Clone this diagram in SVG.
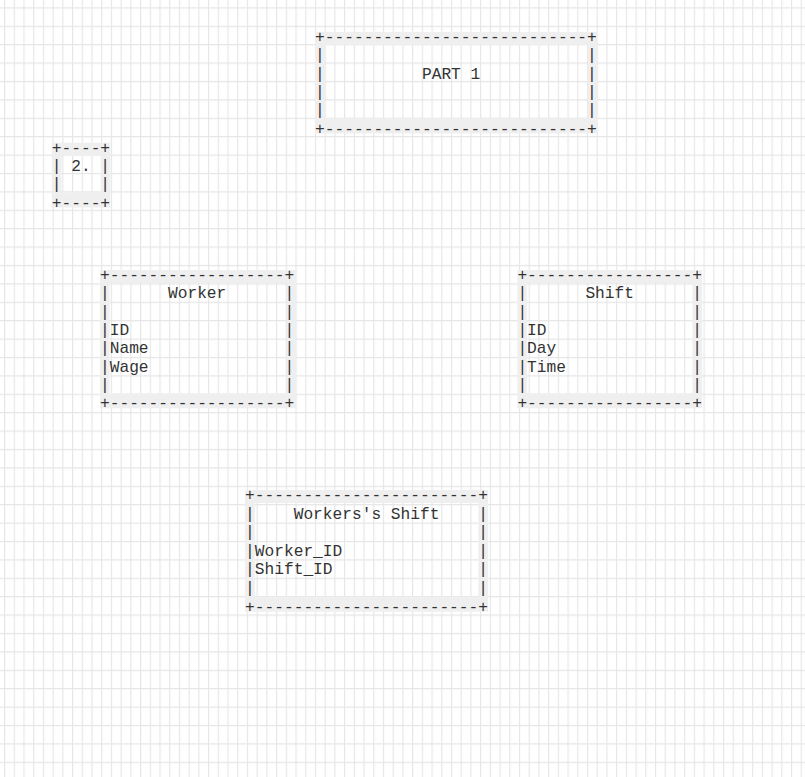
<svg xmlns="http://www.w3.org/2000/svg" width="805" height="777" viewBox="0 0 805 777" xml:space="preserve">
<defs>
<pattern id="grid" patternUnits="userSpaceOnUse" x="4" y="7.3" width="9.716" height="18.4">
<rect width="9.716" height="18.4" fill="#ffffff"/>
<path d="M0.5 0V18.4M0 0.5H9.716" stroke="#e6e6e6" stroke-width="1.2" fill="none"/>
</pattern>
<style>
.t{font-family:"Liberation Mono","DejaVu Sans Mono",monospace;font-size:16.2px;fill:#333333;white-space:pre}
.band{fill:#efefef;fill-rule:evenodd}
</style>
</defs>
<rect x="0" y="0" width="805" height="777" fill="url(#grid)"/>

<g id="part1">
<path class="band" d="M315.1 32H597.5V133.5H315.1Z M324.8 45V118.5H587.8V45Z"/>
<text class="t" x="315.1" y="42">+---------------------------+</text>
<text class="t" x="315.1" y="60.3">|                           |</text>
<text class="t" x="315.1" y="78.6">|          PART 1           |</text>
<text class="t" x="315.1" y="96.9">|                           |</text>
<text class="t" x="315.1" y="115.2">|                           |</text>
<text class="t" x="315.1" y="133.5">+---------------------------+</text>
</g>

<g id="part2">
<path class="band" d="M51.8 142.7H110.3V207.6H51.8Z M61.5 155.7V192.6H100.6V155.7Z"/>
<text class="t" x="51.8" y="152.7">+----+</text>
<text class="t" x="51.8" y="171">| 2. |</text>
<text class="t" x="51.8" y="189.3">|    |</text>
<text class="t" x="51.8" y="207.6">+----+</text>
</g>

<g id="worker">
<path class="band" d="M100 270H296.4V408.3H100Z M109.7 283V393.3H286.7V283Z"/>
<text class="t" x="100" y="280">+------------------+</text>
<text class="t" x="100" y="298.33">|      Worker      |</text>
<text class="t" x="100" y="316.66">|                  |</text>
<text class="t" x="100" y="335">|ID                |</text>
<text class="t" x="100" y="353.33">|Name              |</text>
<text class="t" x="100" y="371.66">|Wage              |</text>
<text class="t" x="100" y="390">|                  |</text>
<text class="t" x="100" y="408.33">+------------------+</text>
</g>

<g id="shift">
<path class="band" d="M517.4 270H702.1V408.3H517.4Z M527.1 283V393.3H692.4V283Z"/>
<text class="t" x="517.4" y="280">+-----------------+</text>
<text class="t" x="517.4" y="298.33">|      Shift      |</text>
<text class="t" x="517.4" y="316.66">|                 |</text>
<text class="t" x="517.4" y="335">|ID               |</text>
<text class="t" x="517.4" y="353.33">|Day              |</text>
<text class="t" x="517.4" y="371.66">|Time             |</text>
<text class="t" x="517.4" y="390">|                 |</text>
<text class="t" x="517.4" y="408.33">+-----------------+</text>
</g>

<g id="workers_shift">
<path class="band" d="M245.1 490H488.1V611.7H245.1Z M254.8 503V596.7H478.4V503Z"/>
<text class="t" x="245.1" y="500">+-----------------------+</text>
<text class="t" x="245.1" y="518.6">|    Workers's Shift    |</text>
<text class="t" x="245.1" y="537.2">|                       |</text>
<text class="t" x="245.1" y="555.8">|Worker_ID              |</text>
<text class="t" x="245.1" y="574.4">|Shift_ID               |</text>
<text class="t" x="245.1" y="593">|                       |</text>
<text class="t" x="245.1" y="611.6">+-----------------------+</text>
</g>

<g id="connectors"></g>
</svg>
